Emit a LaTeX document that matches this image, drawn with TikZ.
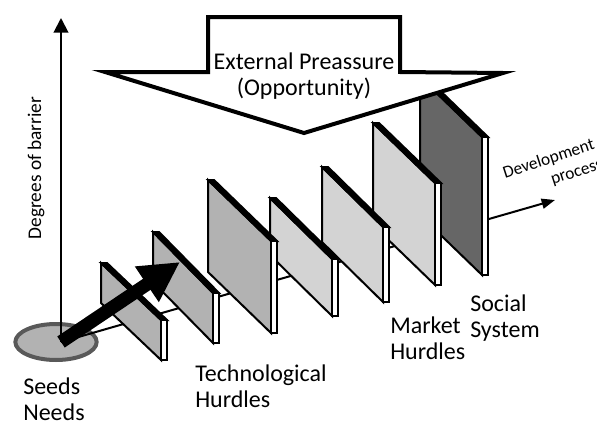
\documentclass[tikz,border=0pt]{standalone}
\usepackage{fontspec}
\setmainfont{Carlito}
\usetikzlibrary{shapes.geometric, arrows.meta}

\definecolor{panelmid}{HTML}{B2B2B2}
\definecolor{panellight}{HTML}{D3D3D3}
\definecolor{paneldark}{HTML}{666666}
\definecolor{poolrim}{HTML}{595959}

\begin{document}
\begin{tikzpicture}[x=0.75pt, y=-0.75pt]
    \tikzstyle{pool} = [ellipse, draw=poolrim, line width=3pt, fill=panelmid, minimum width=61pt, minimum height=27pt, inner sep=0pt]
    \tikzstyle{panelface} = [draw=black, line width=1.5pt, line join=miter]
    \tikzstyle{axisline} = [line width=1.5pt, -{Triangle[length=11pt, width=11pt]}]
    \tikzstyle{flowline} = [line width=1.5pt, -{Triangle[length=10pt, width=7.5pt]}]
    \tikzstyle{push} = [line width=10pt, -{Triangle[length=30pt, width=30pt]}]
    \tikzstyle{bigtext} = [font=\fontsize{18}{19.5}\selectfont, inner sep=0pt]
    \tikzstyle{label} = [bigtext, align=left, anchor=west]

    \useasboundingbox (0,0) rectangle (597,421);
    \clip (0,0) rectangle (597,421);

    % seeds pool and axes
    \node[pool] (pool) at (56,342) {};
    \coordinate (origin) at (61,342);
    \coordinate (axistop) at (61,18);
    \coordinate (devend) at (555,200);
    \coordinate (pushtip) at (180,262);
    \draw[axisline] (origin) -- (axistop);
    \draw[flowline] (origin) -- (devend);

    % hurdles, back to front
    \foreach \px/\py/\w/\d/\h/\shade in {420/77/62/60/138/paneldark, 373/123/62/60/102/panellight,
        322/167/61/60/75/panellight, 270/198/62/61/57/panellight, 208/180/63/61/92/panelmid,
        153/232/60/61/50/panelmid, 101/263/60/57/40/panelmid} {
        \filldraw[panelface, fill=\shade] (\px,\py) -- ++(\w,\d) -- ++(0,\h) -- ++(-\w,-\d) -- cycle;
        \filldraw[panelface, fill=black] (\px,\py) -- ++(6,0) -- ++(\w,\d) -- ++(-6,0) -- cycle;
        \filldraw[panelface, fill=white] (\px+\w,\py+\d) -- ++(6,0) -- ++(0,\h) -- ++(-6,0) -- cycle;
    }

    % external pressure
    \filldraw[fill=white, draw=black, line width=3pt, line join=miter]
        (208,17) -- (400,17) -- (400,72) -- (503,73) -- (304,133) -- (105,72) -- (208,72) -- cycle;
    \node[bigtext, align=center] (pressure) at (304,76) {External Preassure\\(Opportunity)};

    \draw[push] (origin) -- (pushtip);

    % labels
    \node[label] (seeds) at (23,399) {Seeds\\Needs};
    \node[label] (tech) at (195,386) {Technological\\Hurdles};
    \node[label] (market) at (390,338) {Market\\Hurdles};
    \node[label] (social) at (470,318) {Social\\System};
    \node[font=\fontsize{14.5}{17}\selectfont, rotate=90, inner sep=0pt] (degrees) at (36,168) {Degrees of barrier};
    \node[font=\fontsize{13}{15.5}\selectfont, rotate=18, align=left, inner sep=0pt] (devel) at (553,169) {Development\\\hspace*{2.5em}process};
\end{tikzpicture}
\end{document}
